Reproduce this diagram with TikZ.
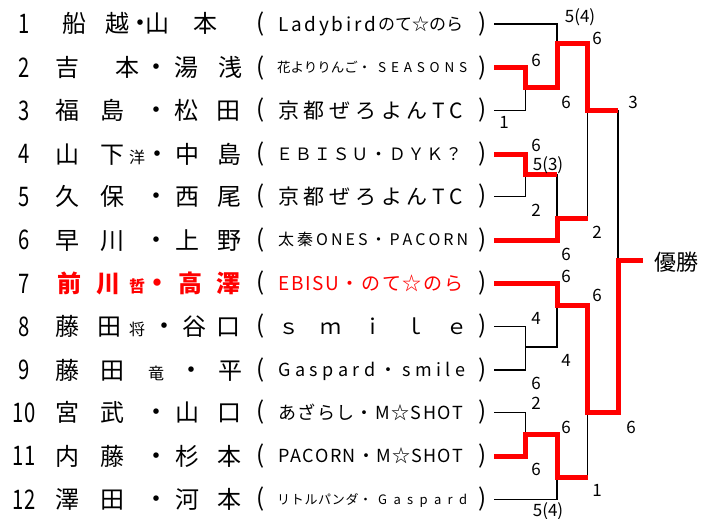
\documentclass[tikz,border=0pt]{standalone}
\usepackage{fontspec}
\usepackage{graphicx}
\setmainfont{Noto Sans CJK JP}
\definecolor{tred}{RGB}{255,0,0}
\newcommand\spreadbox[2]{\makebox[#1pt]{\sprfirst#2\relax}}
\def\sprfirst#1{#1\sprrest}
\def\sprrest#1{\ifx#1\relax\else\hfill#1\expandafter\sprrest\fi}
\newcommand\dotch{\makebox[6pt][c]{\fontsize{26}{26}\selectfont ・}}
\tikzset{
  blk/.style={line width=1.8pt, black, line join=miter},
  rd/.style={line width=5pt, tred, line join=miter},
  nmch/.style={inner sep=0pt, anchor=base, font=\fontsize{24}{24}\selectfont},
  nmsm/.style={inner sep=0pt, anchor=base, font=\fontsize{16}{16}\selectfont},
  paren/.style={inner sep=0pt, anchor=center, font=\fontsize{24}{24}\selectfont},
  score/.style={inner sep=0pt, anchor=center, font=\fontsize{17}{17}\selectfont},
}
\newcommand\namechar[4]{\node[nmch] (#1) at (#2,{#3+9}) {#4};}
\newcommand\namesmall[4]{\node[nmsm] (#1) at (#2,{#3+9}) {#4};}
\newcommand\namered[4]{\node[nmch, text=tred] (#1) at (#2,{#3+9}) {\bfseries #4};}
\newcommand\namesmallred[4]{\node[nmsm, text=tred] (#1) at (#2,{#3+9}) {\bfseries #4};}
\newcommand\teamtxt[6][black]{\node[inner sep=0pt, anchor=base west, text=#1, font=\fontsize{#5}{#5}\selectfont] (#2) at (#3,{#4+0.37*#5}) {#6};}
\newcommand\rnum[3]{\node[inner sep=0pt, anchor=base, font=\fontsize{27}{27}\selectfont] (#1) at (24,{#2+9.9}) {\scalebox{0.75}[1]{#3}};}
\newcommand\scorelbl[4]{\node[score] (#1) at (#2,#3) {#4};}
\newcommand\parens[2]{\node[paren] (pl#1) at (261,#2) {(}; \node[paren] (pr#1) at (483,#2) {)};}
\begin{document}
\begin{tikzpicture}[x=1pt,y=-1pt]
\fill[white] (0,0) rectangle (713,519);
\useasboundingbox (0,0) rectangle (713,519);
% row numbers
\rnum{k1}{24}{1}
\rnum{k2}{68}{2}
\rnum{k3}{110.5}{3}
\rnum{k4}{154}{4}
\rnum{k5}{196.5}{5}
\rnum{k6}{240}{6}
\rnum{k7}{283.5}{7}
\rnum{k8}{326.5}{8}
\rnum{k9}{370}{9}
\rnum{k10}{412.5}{10}
\rnum{k11}{456}{11}
\rnum{k12}{499.5}{12}
% names
\namechar{n1a}{74}{24}{船}\namechar{n1b}{117}{24}{越}\namechar{n1c}{140}{24}{\dotch}\namechar{n1d}{157}{24}{山}\namechar{n1e}{205}{24}{本}
\namechar{n2a}{68}{68}{吉}\namechar{n2b}{127}{68}{本}\namechar{n2c}{156}{68}{\dotch}\namechar{n2d}{186}{68}{湯}\namechar{n2e}{230}{68}{浅}
\namechar{n3a}{68}{110.5}{福}\namechar{n3b}{112}{110.5}{島}\namechar{n3c}{156}{110.5}{\dotch}\namechar{n3d}{186}{110.5}{松}\namechar{n3e}{228}{110.5}{田}
\namechar{n4a}{68}{154}{山}\namechar{n4b}{112}{154}{下}\namesmall{n4s}{137}{154}{洋}\namechar{n4c}{157}{154}{\dotch}\namechar{n4d}{187}{154}{中}\namechar{n4e}{229}{154}{島}
\namechar{n5a}{68}{196.5}{久}\namechar{n5b}{112}{196.5}{保}\namechar{n5c}{156}{196.5}{\dotch}\namechar{n5d}{187}{196.5}{西}\namechar{n5e}{229}{196.5}{尾}
\namechar{n6a}{68}{240}{早}\namechar{n6b}{112}{240}{川}\namechar{n6c}{156}{240}{\dotch}\namechar{n6d}{187}{240}{上}\namechar{n6e}{229}{240}{野}
\namered{n7a}{69}{283.5}{前}\namered{n7b}{108}{283.5}{川}\namesmallred{n7s}{137}{283.5}{哲}\namered{n7c}{157}{283.5}{\dotch}\namered{n7d}{190}{283.5}{高}\namered{n7e}{228}{283.5}{澤}
\namechar{n8a}{68}{326.5}{藤}\namechar{n8b}{109}{326.5}{田}\namesmall{n8s}{137}{326.5}{将}\namechar{n8c}{164}{326.5}{\dotch}\namechar{n8d}{194}{326.5}{谷}\namechar{n8e}{228}{326.5}{口}
\namechar{n9a}{68}{370}{藤}\namechar{n9b}{112}{370}{田}\namesmall{n9s}{156}{370}{竜}\namechar{n9c}{191}{370}{\dotch}\namechar{n9e}{230}{370}{平}
\namechar{n10a}{68}{412.5}{宮}\namechar{n10b}{112}{412.5}{武}\namechar{n10c}{156}{412.5}{\dotch}\namechar{n10d}{187}{412.5}{山}\namechar{n10e}{229}{412.5}{口}
\namechar{n11a}{68}{456}{内}\namechar{n11b}{112}{456}{藤}\namechar{n11c}{156}{456}{\dotch}\namechar{n11d}{187}{456}{杉}\namechar{n11e}{229}{456}{本}
\namechar{n12a}{68}{499.5}{澤}\namechar{n12b}{112}{499.5}{田}\namechar{n12c}{156}{499.5}{\dotch}\namechar{n12d}{187}{499.5}{河}\namechar{n12e}{229}{499.5}{本}
% parentheses
\parens{1}{24}\parens{2}{68}\parens{3}{110.5}\parens{4}{154}\parens{5}{196.5}\parens{6}{240}
\parens{7}{283.5}\parens{8}{326.5}\parens{9}{370}\parens{10}{412.5}\parens{11}{456}\parens{12}{499.5}
% teams
\teamtxt{t1a}{278}{24}{19}{\spreadbox{98}{Ladybird}}
\teamtxt{t1b}{378}{24}{17}{のて☆のら}
\teamtxt{t2a}{277}{68}{13.5}{花よりりんご・}
\teamtxt{t2b}{378}{68}{13.5}{\spreadbox{89}{SEASONS}}
\teamtxt{t3}{278}{110.5}{21}{\spreadbox{185}{京都ぜろよんTC}}
\teamtxt{t4}{276}{154}{17}{\spreadbox{186}{ＥＢＩＳＵ・ＤＹＫ？}}
\teamtxt{t5}{278}{196.5}{21}{\spreadbox{185}{京都ぜろよんTC}}
\teamtxt{t6}{278}{240}{16}{\spreadbox{190}{太秦ONES・PACORN}}
\teamtxt[tred]{t7}{278}{283.5}{19}{\spreadbox{185}{EBISU・のて☆のら}}
\teamtxt{t8}{278}{326.5}{21}{\spreadbox{189}{ｓｍｉｌｅ}}
\teamtxt{t9}{278}{370}{18}{\spreadbox{187}{Gaspard・smile}}
\teamtxt{t10}{278}{412.5}{18}{\spreadbox{185}{あざらし・M☆SHOT}}
\teamtxt{t11}{278}{456}{18}{\spreadbox{185}{PACORN・M☆SHOT}}
\teamtxt{t12a}{277}{499.5}{13}{\spreadbox{95}{リトルパンダ・}}
\teamtxt{t12b}{378}{499.5}{13}{\spreadbox{89}{Gaspard}}
% bracket start points
\foreach \i/\yy in {1/24,2/68,3/110.5,4/154,5/196.5,6/240,7/283.5,8/326.5,9/370,10/412.5,11/456,12/499.5}
  \coordinate (e\i) at (494,\yy);
% black lines
\draw[blk] (e1) -- (557,24) -- (557,44);
\draw[blk] (e3) -- (525.5,110.5) -- (525.5,88);
\draw[blk] (e5) -- (525.5,196.5) -- (525.5,174);
\draw[blk] (557,174) -- (557,218);
\draw[blk] (587.5,110.5) -- (587.5,218);
\draw[blk] (618,110.5) -- (618,260);
\draw[blk] (e8) -- (525.5,326.5) -- (525.5,347) -- (557,347) -- (557,305);
\draw[blk] (e9) -- (525.5,370) -- (525.5,347);
\draw[blk] (e10) -- (525.5,412.5) -- (525.5,434);
\draw[blk] (e12) -- (557,499.5) -- (557,477);
\draw[blk] (587.5,477) -- (587.5,412.5);
% red lines
\draw[rd] (e2) -- (525.5,68) -- (525.5,88) -- (557,88) -- (557,44) -- (587.5,44) -- (587.5,110.5) -- (618,110.5);
\draw[rd] (e4) -- (525.5,154) -- (525.5,174) -- (557,174);
\draw[rd] (e6) -- (557,240) -- (557,218) -- (587.5,218);
\draw[rd] (e7) -- (557,283.5) -- (557,305) -- (587.5,305) -- (587.5,412.5) -- (618,412.5) -- (618,260) -- (643,260);
\draw[rd] (e11) -- (525.5,456) -- (525.5,434) -- (557,434) -- (557,477) -- (587.5,477);
% scores
\scorelbl{s1}{580}{17}{5(4)}
\scorelbl{s2}{597}{38}{6}
\scorelbl{s3}{536}{60}{6}
\scorelbl{s4}{566}{102}{6}
\scorelbl{s5}{504}{122}{1}
\scorelbl{s6}{633}{102}{3}
\scorelbl{s7}{536}{145}{6}
\scorelbl{s8}{548}{165}{5(3)}
\scorelbl{s9}{536}{210}{2}
\scorelbl{s10}{597}{232}{2}
\scorelbl{s11}{566}{254}{6}
\scorelbl{s12}{566}{276}{6}
\scorelbl{s13}{597}{295}{6}
\scorelbl{s14}{536}{318}{4}
\scorelbl{s15}{566}{360}{4}
\scorelbl{s16}{536}{383}{6}
\scorelbl{s17}{536}{403}{2}
\scorelbl{s18}{566}{427}{6}
\scorelbl{s19}{631}{427}{6}
\scorelbl{s20}{536}{469}{6}
\scorelbl{s21}{597}{490}{1}
\scorelbl{s22}{548}{511}{5(4)}
\node[inner sep=0pt, anchor=center, font=\fontsize{22}{22}\selectfont] (win) at (676,262) {優勝};
\end{tikzpicture}
\end{document}
